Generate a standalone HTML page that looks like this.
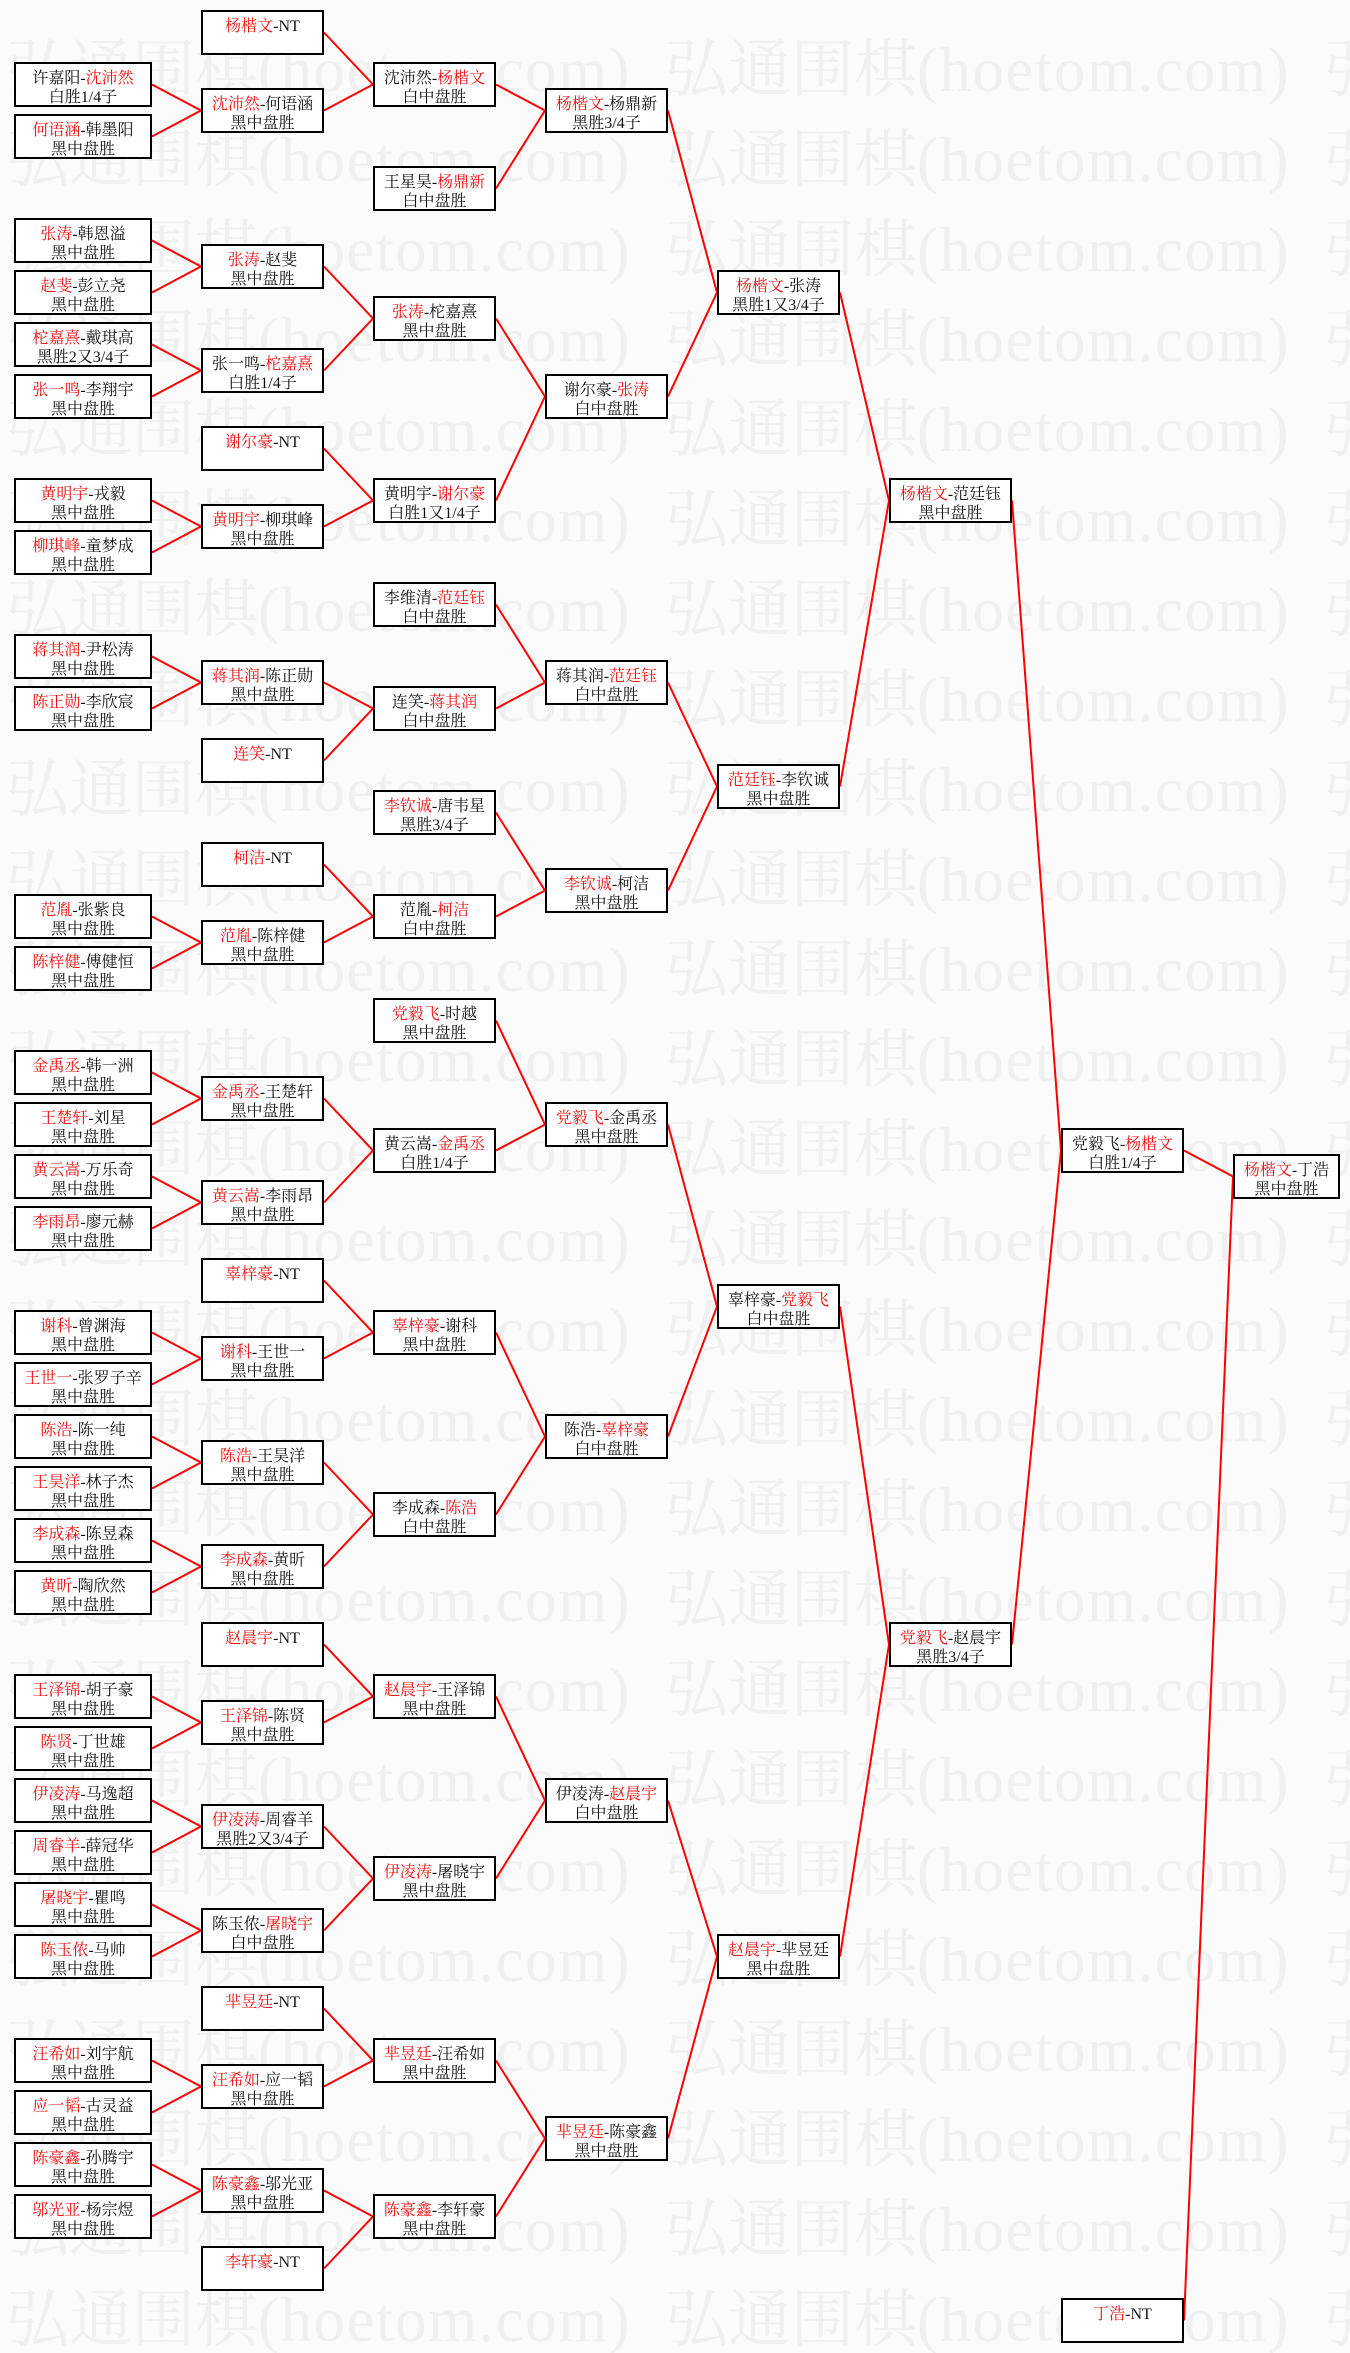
<!DOCTYPE html>
<html><head><meta charset="utf-8"><style>
html,body{margin:0;padding:0;background:#fbfbfb;}
body{width:1350px;height:2353px;overflow:hidden;}
svg{display:block;}
.w{font-family:"Liberation Serif","Noto Serif CJK SC",serif;font-size:63px;fill:#f0f0f0;}
.lt{letter-spacing:1.5px;}
.l{fill:none;stroke:#f00;stroke-width:2;}
.b{fill:#fff;stroke:#000;stroke-width:2;}
.t{font-family:"Liberation Serif","Noto Serif CJK SC",serif;font-size:16px;fill:#111;text-anchor:middle;}
.r{fill:#f01010;}
</style></head><body>
<svg width="1350" height="2353" viewBox="0 0 1350 2353" xmlns="http://www.w3.org/2000/svg">
<!-- watermark -->
<g>
<text class="w" y="91"><tspan x="6">弘通围棋</tspan><tspan class="lt">(hoetom.com)</tspan><tspan x="665">弘通围棋</tspan><tspan class="lt">(hoetom.com)</tspan><tspan x="1324">弘通围棋</tspan></text>
<text class="w" y="181"><tspan x="6">弘通围棋</tspan><tspan class="lt">(hoetom.com)</tspan><tspan x="665">弘通围棋</tspan><tspan class="lt">(hoetom.com)</tspan><tspan x="1324">弘通围棋</tspan></text>
<text class="w" y="271"><tspan x="6">弘通围棋</tspan><tspan class="lt">(hoetom.com)</tspan><tspan x="665">弘通围棋</tspan><tspan class="lt">(hoetom.com)</tspan><tspan x="1324">弘通围棋</tspan></text>
<text class="w" y="361"><tspan x="6">弘通围棋</tspan><tspan class="lt">(hoetom.com)</tspan><tspan x="665">弘通围棋</tspan><tspan class="lt">(hoetom.com)</tspan><tspan x="1324">弘通围棋</tspan></text>
<text class="w" y="451"><tspan x="6">弘通围棋</tspan><tspan class="lt">(hoetom.com)</tspan><tspan x="665">弘通围棋</tspan><tspan class="lt">(hoetom.com)</tspan><tspan x="1324">弘通围棋</tspan></text>
<text class="w" y="541"><tspan x="6">弘通围棋</tspan><tspan class="lt">(hoetom.com)</tspan><tspan x="665">弘通围棋</tspan><tspan class="lt">(hoetom.com)</tspan><tspan x="1324">弘通围棋</tspan></text>
<text class="w" y="631"><tspan x="6">弘通围棋</tspan><tspan class="lt">(hoetom.com)</tspan><tspan x="665">弘通围棋</tspan><tspan class="lt">(hoetom.com)</tspan><tspan x="1324">弘通围棋</tspan></text>
<text class="w" y="721"><tspan x="6">弘通围棋</tspan><tspan class="lt">(hoetom.com)</tspan><tspan x="665">弘通围棋</tspan><tspan class="lt">(hoetom.com)</tspan><tspan x="1324">弘通围棋</tspan></text>
<text class="w" y="811"><tspan x="6">弘通围棋</tspan><tspan class="lt">(hoetom.com)</tspan><tspan x="665">弘通围棋</tspan><tspan class="lt">(hoetom.com)</tspan><tspan x="1324">弘通围棋</tspan></text>
<text class="w" y="901"><tspan x="6">弘通围棋</tspan><tspan class="lt">(hoetom.com)</tspan><tspan x="665">弘通围棋</tspan><tspan class="lt">(hoetom.com)</tspan><tspan x="1324">弘通围棋</tspan></text>
<text class="w" y="991"><tspan x="6">弘通围棋</tspan><tspan class="lt">(hoetom.com)</tspan><tspan x="665">弘通围棋</tspan><tspan class="lt">(hoetom.com)</tspan><tspan x="1324">弘通围棋</tspan></text>
<text class="w" y="1081"><tspan x="6">弘通围棋</tspan><tspan class="lt">(hoetom.com)</tspan><tspan x="665">弘通围棋</tspan><tspan class="lt">(hoetom.com)</tspan><tspan x="1324">弘通围棋</tspan></text>
<text class="w" y="1171"><tspan x="6">弘通围棋</tspan><tspan class="lt">(hoetom.com)</tspan><tspan x="665">弘通围棋</tspan><tspan class="lt">(hoetom.com)</tspan><tspan x="1324">弘通围棋</tspan></text>
<text class="w" y="1261"><tspan x="6">弘通围棋</tspan><tspan class="lt">(hoetom.com)</tspan><tspan x="665">弘通围棋</tspan><tspan class="lt">(hoetom.com)</tspan><tspan x="1324">弘通围棋</tspan></text>
<text class="w" y="1351"><tspan x="6">弘通围棋</tspan><tspan class="lt">(hoetom.com)</tspan><tspan x="665">弘通围棋</tspan><tspan class="lt">(hoetom.com)</tspan><tspan x="1324">弘通围棋</tspan></text>
<text class="w" y="1441"><tspan x="6">弘通围棋</tspan><tspan class="lt">(hoetom.com)</tspan><tspan x="665">弘通围棋</tspan><tspan class="lt">(hoetom.com)</tspan><tspan x="1324">弘通围棋</tspan></text>
<text class="w" y="1531"><tspan x="6">弘通围棋</tspan><tspan class="lt">(hoetom.com)</tspan><tspan x="665">弘通围棋</tspan><tspan class="lt">(hoetom.com)</tspan><tspan x="1324">弘通围棋</tspan></text>
<text class="w" y="1621"><tspan x="6">弘通围棋</tspan><tspan class="lt">(hoetom.com)</tspan><tspan x="665">弘通围棋</tspan><tspan class="lt">(hoetom.com)</tspan><tspan x="1324">弘通围棋</tspan></text>
<text class="w" y="1711"><tspan x="6">弘通围棋</tspan><tspan class="lt">(hoetom.com)</tspan><tspan x="665">弘通围棋</tspan><tspan class="lt">(hoetom.com)</tspan><tspan x="1324">弘通围棋</tspan></text>
<text class="w" y="1801"><tspan x="6">弘通围棋</tspan><tspan class="lt">(hoetom.com)</tspan><tspan x="665">弘通围棋</tspan><tspan class="lt">(hoetom.com)</tspan><tspan x="1324">弘通围棋</tspan></text>
<text class="w" y="1891"><tspan x="6">弘通围棋</tspan><tspan class="lt">(hoetom.com)</tspan><tspan x="665">弘通围棋</tspan><tspan class="lt">(hoetom.com)</tspan><tspan x="1324">弘通围棋</tspan></text>
<text class="w" y="1981"><tspan x="6">弘通围棋</tspan><tspan class="lt">(hoetom.com)</tspan><tspan x="665">弘通围棋</tspan><tspan class="lt">(hoetom.com)</tspan><tspan x="1324">弘通围棋</tspan></text>
<text class="w" y="2071"><tspan x="6">弘通围棋</tspan><tspan class="lt">(hoetom.com)</tspan><tspan x="665">弘通围棋</tspan><tspan class="lt">(hoetom.com)</tspan><tspan x="1324">弘通围棋</tspan></text>
<text class="w" y="2161"><tspan x="6">弘通围棋</tspan><tspan class="lt">(hoetom.com)</tspan><tspan x="665">弘通围棋</tspan><tspan class="lt">(hoetom.com)</tspan><tspan x="1324">弘通围棋</tspan></text>
<text class="w" y="2251"><tspan x="6">弘通围棋</tspan><tspan class="lt">(hoetom.com)</tspan><tspan x="665">弘通围棋</tspan><tspan class="lt">(hoetom.com)</tspan><tspan x="1324">弘通围棋</tspan></text>
<text class="w" y="2341"><tspan x="6">弘通围棋</tspan><tspan class="lt">(hoetom.com)</tspan><tspan x="665">弘通围棋</tspan><tspan class="lt">(hoetom.com)</tspan><tspan x="1324">弘通围棋</tspan></text>
</g>
<!-- connectors -->
<g>
<polyline class="l" points="152,84.5 201,110.5 152,136.5"/>
<polyline class="l" points="152,240.5 201,266.5 152,292.5"/>
<polyline class="l" points="152,344.5 201,370.5 152,396.5"/>
<polyline class="l" points="152,500.5 201,526.5 152,552.5"/>
<polyline class="l" points="152,656.5 201,682.5 152,708.5"/>
<polyline class="l" points="152,916.5 201,942.5 152,968.5"/>
<polyline class="l" points="152,1072.5 201,1098.5 152,1124.5"/>
<polyline class="l" points="152,1176.5 201,1202.5 152,1228.5"/>
<polyline class="l" points="152,1332.5 201,1358.5 152,1384.5"/>
<polyline class="l" points="152,1436.5 201,1462.5 152,1488.5"/>
<polyline class="l" points="152,1540.5 201,1566.5 152,1592.5"/>
<polyline class="l" points="152,1696.5 201,1722.5 152,1748.5"/>
<polyline class="l" points="152,1800.5 201,1826.5 152,1852.5"/>
<polyline class="l" points="152,1904.5 201,1930.5 152,1956.5"/>
<polyline class="l" points="152,2060.5 201,2086.5 152,2112.5"/>
<polyline class="l" points="152,2164.5 201,2190.5 152,2216.5"/>

<polyline class="l" points="324,32.5 373,84.5 324,110.5"/>
<polyline class="l" points="324,266.5 373,318.5 324,370.5"/>
<polyline class="l" points="324,448.5 373,500.5 324,526.5"/>
<polyline class="l" points="324,682.5 373,708.5 324,760.5"/>
<polyline class="l" points="324,864.5 373,916.5 324,942.5"/>
<polyline class="l" points="324,1098.5 373,1150.5 324,1202.5"/>
<polyline class="l" points="324,1280.5 373,1332.5 324,1358.5"/>
<polyline class="l" points="324,1462.5 373,1514.5 324,1566.5"/>
<polyline class="l" points="324,1644.5 373,1696.5 324,1722.5"/>
<polyline class="l" points="324,1826.5 373,1878.5 324,1930.5"/>
<polyline class="l" points="324,2008.5 373,2060.5 324,2086.5"/>
<polyline class="l" points="324,2190.5 373,2216.5 324,2268.5"/>

<polyline class="l" points="496,84.5 545,110.5 496,188.5"/>
<polyline class="l" points="496,318.5 545,396.5 496,500.5"/>
<polyline class="l" points="496,604.5 545,682.5 496,708.5"/>
<polyline class="l" points="496,812.5 545,890.5 496,916.5"/>
<polyline class="l" points="496,1020.5 545,1124.5 496,1150.5"/>
<polyline class="l" points="496,1332.5 545,1436.5 496,1514.5"/>
<polyline class="l" points="496,1696.5 545,1800.5 496,1878.5"/>
<polyline class="l" points="496,2060.5 545,2138.5 496,2216.5"/>

<polyline class="l" points="668,110.5 717,292.5 668,396.5"/>
<polyline class="l" points="668,682.5 717,786.5 668,890.5"/>
<polyline class="l" points="668,1124.5 717,1306.5 668,1436.5"/>
<polyline class="l" points="668,1800.5 717,1956.5 668,2138.5"/>

<polyline class="l" points="840,292.5 889,500.5 840,786.5"/>
<polyline class="l" points="840,1306.5 889,1644.5 840,1956.5"/>

<polyline class="l" points="1012,500.5 1061,1150.5 1012,1644.5"/>

<polyline class="l" points="1184,1150.5 1233,1176.5 1184,2320.5"/>
</g>
<!-- column 1 -->
<g transform="translate(14,62)"><rect class="b" x="1" y="1" width="136" height="43"/><text class="t" x="69" y="21">许嘉阳-<tspan class="r">沈沛然</tspan></text><text class="t" x="69" y="40">白胜1/4子</text></g>
<g transform="translate(14,114)"><rect class="b" x="1" y="1" width="136" height="43"/><text class="t" x="69" y="21"><tspan class="r">何语涵</tspan>-韩墨阳</text><text class="t" x="69" y="40">黑中盘胜</text></g>
<g transform="translate(14,218)"><rect class="b" x="1" y="1" width="136" height="43"/><text class="t" x="69" y="21"><tspan class="r">张涛</tspan>-韩恩溢</text><text class="t" x="69" y="40">黑中盘胜</text></g>
<g transform="translate(14,270)"><rect class="b" x="1" y="1" width="136" height="43"/><text class="t" x="69" y="21"><tspan class="r">赵斐</tspan>-彭立尧</text><text class="t" x="69" y="40">黑中盘胜</text></g>
<g transform="translate(14,322)"><rect class="b" x="1" y="1" width="136" height="43"/><text class="t" x="69" y="21"><tspan class="r">柁嘉熹</tspan>-戴琪高</text><text class="t" x="69" y="40">黑胜2又3/4子</text></g>
<g transform="translate(14,374)"><rect class="b" x="1" y="1" width="136" height="43"/><text class="t" x="69" y="21"><tspan class="r">张一鸣</tspan>-李翔宇</text><text class="t" x="69" y="40">黑中盘胜</text></g>
<g transform="translate(14,478)"><rect class="b" x="1" y="1" width="136" height="43"/><text class="t" x="69" y="21"><tspan class="r">黄明宇</tspan>-戎毅</text><text class="t" x="69" y="40">黑中盘胜</text></g>
<g transform="translate(14,530)"><rect class="b" x="1" y="1" width="136" height="43"/><text class="t" x="69" y="21"><tspan class="r">柳琪峰</tspan>-童梦成</text><text class="t" x="69" y="40">黑中盘胜</text></g>
<g transform="translate(14,634)"><rect class="b" x="1" y="1" width="136" height="43"/><text class="t" x="69" y="21"><tspan class="r">蒋其润</tspan>-尹松涛</text><text class="t" x="69" y="40">黑中盘胜</text></g>
<g transform="translate(14,686)"><rect class="b" x="1" y="1" width="136" height="43"/><text class="t" x="69" y="21"><tspan class="r">陈正勋</tspan>-李欣宸</text><text class="t" x="69" y="40">黑中盘胜</text></g>
<g transform="translate(14,894)"><rect class="b" x="1" y="1" width="136" height="43"/><text class="t" x="69" y="21"><tspan class="r">范胤</tspan>-张紫良</text><text class="t" x="69" y="40">黑中盘胜</text></g>
<g transform="translate(14,946)"><rect class="b" x="1" y="1" width="136" height="43"/><text class="t" x="69" y="21"><tspan class="r">陈梓健</tspan>-傅健恒</text><text class="t" x="69" y="40">黑中盘胜</text></g>
<g transform="translate(14,1050)"><rect class="b" x="1" y="1" width="136" height="43"/><text class="t" x="69" y="21"><tspan class="r">金禹丞</tspan>-韩一洲</text><text class="t" x="69" y="40">黑中盘胜</text></g>
<g transform="translate(14,1102)"><rect class="b" x="1" y="1" width="136" height="43"/><text class="t" x="69" y="21"><tspan class="r">王楚轩</tspan>-刘星</text><text class="t" x="69" y="40">黑中盘胜</text></g>
<g transform="translate(14,1154)"><rect class="b" x="1" y="1" width="136" height="43"/><text class="t" x="69" y="21"><tspan class="r">黄云嵩</tspan>-万乐奇</text><text class="t" x="69" y="40">黑中盘胜</text></g>
<g transform="translate(14,1206)"><rect class="b" x="1" y="1" width="136" height="43"/><text class="t" x="69" y="21"><tspan class="r">李雨昂</tspan>-廖元赫</text><text class="t" x="69" y="40">黑中盘胜</text></g>
<g transform="translate(14,1310)"><rect class="b" x="1" y="1" width="136" height="43"/><text class="t" x="69" y="21"><tspan class="r">谢科</tspan>-曾渊海</text><text class="t" x="69" y="40">黑中盘胜</text></g>
<g transform="translate(14,1362)"><rect class="b" x="1" y="1" width="136" height="43"/><text class="t" x="69" y="21"><tspan class="r">王世一</tspan>-张罗子辛</text><text class="t" x="69" y="40">黑中盘胜</text></g>
<g transform="translate(14,1414)"><rect class="b" x="1" y="1" width="136" height="43"/><text class="t" x="69" y="21"><tspan class="r">陈浩</tspan>-陈一纯</text><text class="t" x="69" y="40">黑中盘胜</text></g>
<g transform="translate(14,1466)"><rect class="b" x="1" y="1" width="136" height="43"/><text class="t" x="69" y="21"><tspan class="r">王昊洋</tspan>-林子杰</text><text class="t" x="69" y="40">黑中盘胜</text></g>
<g transform="translate(14,1518)"><rect class="b" x="1" y="1" width="136" height="43"/><text class="t" x="69" y="21"><tspan class="r">李成森</tspan>-陈昱森</text><text class="t" x="69" y="40">黑中盘胜</text></g>
<g transform="translate(14,1570)"><rect class="b" x="1" y="1" width="136" height="43"/><text class="t" x="69" y="21"><tspan class="r">黄昕</tspan>-陶欣然</text><text class="t" x="69" y="40">黑中盘胜</text></g>
<g transform="translate(14,1674)"><rect class="b" x="1" y="1" width="136" height="43"/><text class="t" x="69" y="21"><tspan class="r">王泽锦</tspan>-胡子豪</text><text class="t" x="69" y="40">黑中盘胜</text></g>
<g transform="translate(14,1726)"><rect class="b" x="1" y="1" width="136" height="43"/><text class="t" x="69" y="21"><tspan class="r">陈贤</tspan>-丁世雄</text><text class="t" x="69" y="40">黑中盘胜</text></g>
<g transform="translate(14,1778)"><rect class="b" x="1" y="1" width="136" height="43"/><text class="t" x="69" y="21"><tspan class="r">伊凌涛</tspan>-马逸超</text><text class="t" x="69" y="40">黑中盘胜</text></g>
<g transform="translate(14,1830)"><rect class="b" x="1" y="1" width="136" height="43"/><text class="t" x="69" y="21"><tspan class="r">周睿羊</tspan>-薛冠华</text><text class="t" x="69" y="40">黑中盘胜</text></g>
<g transform="translate(14,1882)"><rect class="b" x="1" y="1" width="136" height="43"/><text class="t" x="69" y="21"><tspan class="r">屠晓宇</tspan>-瞿鸣</text><text class="t" x="69" y="40">黑中盘胜</text></g>
<g transform="translate(14,1934)"><rect class="b" x="1" y="1" width="136" height="43"/><text class="t" x="69" y="21"><tspan class="r">陈玉侬</tspan>-马帅</text><text class="t" x="69" y="40">黑中盘胜</text></g>
<g transform="translate(14,2038)"><rect class="b" x="1" y="1" width="136" height="43"/><text class="t" x="69" y="21"><tspan class="r">汪希如</tspan>-刘宇航</text><text class="t" x="69" y="40">黑中盘胜</text></g>
<g transform="translate(14,2090)"><rect class="b" x="1" y="1" width="136" height="43"/><text class="t" x="69" y="21"><tspan class="r">应一韬</tspan>-古灵益</text><text class="t" x="69" y="40">黑中盘胜</text></g>
<g transform="translate(14,2142)"><rect class="b" x="1" y="1" width="136" height="43"/><text class="t" x="69" y="21"><tspan class="r">陈豪鑫</tspan>-孙腾宇</text><text class="t" x="69" y="40">黑中盘胜</text></g>
<g transform="translate(14,2194)"><rect class="b" x="1" y="1" width="136" height="43"/><text class="t" x="69" y="21"><tspan class="r">邬光亚</tspan>-杨宗煜</text><text class="t" x="69" y="40">黑中盘胜</text></g>
<!-- column 2 -->
<g transform="translate(201,10)"><rect class="b" x="1" y="1" width="121" height="43"/><text class="t" x="61.5" y="21"><tspan class="r">杨楷文</tspan>-NT</text></g>
<g transform="translate(201,88)"><rect class="b" x="1" y="1" width="121" height="43"/><text class="t" x="61.5" y="21"><tspan class="r">沈沛然</tspan>-何语涵</text><text class="t" x="61.5" y="40">黑中盘胜</text></g>
<g transform="translate(201,244)"><rect class="b" x="1" y="1" width="121" height="43"/><text class="t" x="61.5" y="21"><tspan class="r">张涛</tspan>-赵斐</text><text class="t" x="61.5" y="40">黑中盘胜</text></g>
<g transform="translate(201,348)"><rect class="b" x="1" y="1" width="121" height="43"/><text class="t" x="61.5" y="21">张一鸣-<tspan class="r">柁嘉熹</tspan></text><text class="t" x="61.5" y="40">白胜1/4子</text></g>
<g transform="translate(201,426)"><rect class="b" x="1" y="1" width="121" height="43"/><text class="t" x="61.5" y="21"><tspan class="r">谢尔豪</tspan>-NT</text></g>
<g transform="translate(201,504)"><rect class="b" x="1" y="1" width="121" height="43"/><text class="t" x="61.5" y="21"><tspan class="r">黄明宇</tspan>-柳琪峰</text><text class="t" x="61.5" y="40">黑中盘胜</text></g>
<g transform="translate(201,660)"><rect class="b" x="1" y="1" width="121" height="43"/><text class="t" x="61.5" y="21"><tspan class="r">蒋其润</tspan>-陈正勋</text><text class="t" x="61.5" y="40">黑中盘胜</text></g>
<g transform="translate(201,738)"><rect class="b" x="1" y="1" width="121" height="43"/><text class="t" x="61.5" y="21"><tspan class="r">连笑</tspan>-NT</text></g>
<g transform="translate(201,842)"><rect class="b" x="1" y="1" width="121" height="43"/><text class="t" x="61.5" y="21"><tspan class="r">柯洁</tspan>-NT</text></g>
<g transform="translate(201,920)"><rect class="b" x="1" y="1" width="121" height="43"/><text class="t" x="61.5" y="21"><tspan class="r">范胤</tspan>-陈梓健</text><text class="t" x="61.5" y="40">黑中盘胜</text></g>
<g transform="translate(201,1076)"><rect class="b" x="1" y="1" width="121" height="43"/><text class="t" x="61.5" y="21"><tspan class="r">金禹丞</tspan>-王楚轩</text><text class="t" x="61.5" y="40">黑中盘胜</text></g>
<g transform="translate(201,1180)"><rect class="b" x="1" y="1" width="121" height="43"/><text class="t" x="61.5" y="21"><tspan class="r">黄云嵩</tspan>-李雨昂</text><text class="t" x="61.5" y="40">黑中盘胜</text></g>
<g transform="translate(201,1258)"><rect class="b" x="1" y="1" width="121" height="43"/><text class="t" x="61.5" y="21"><tspan class="r">辜梓豪</tspan>-NT</text></g>
<g transform="translate(201,1336)"><rect class="b" x="1" y="1" width="121" height="43"/><text class="t" x="61.5" y="21"><tspan class="r">谢科</tspan>-王世一</text><text class="t" x="61.5" y="40">黑中盘胜</text></g>
<g transform="translate(201,1440)"><rect class="b" x="1" y="1" width="121" height="43"/><text class="t" x="61.5" y="21"><tspan class="r">陈浩</tspan>-王昊洋</text><text class="t" x="61.5" y="40">黑中盘胜</text></g>
<g transform="translate(201,1544)"><rect class="b" x="1" y="1" width="121" height="43"/><text class="t" x="61.5" y="21"><tspan class="r">李成森</tspan>-黄昕</text><text class="t" x="61.5" y="40">黑中盘胜</text></g>
<g transform="translate(201,1622)"><rect class="b" x="1" y="1" width="121" height="43"/><text class="t" x="61.5" y="21"><tspan class="r">赵晨宇</tspan>-NT</text></g>
<g transform="translate(201,1700)"><rect class="b" x="1" y="1" width="121" height="43"/><text class="t" x="61.5" y="21"><tspan class="r">王泽锦</tspan>-陈贤</text><text class="t" x="61.5" y="40">黑中盘胜</text></g>
<g transform="translate(201,1804)"><rect class="b" x="1" y="1" width="121" height="43"/><text class="t" x="61.5" y="21"><tspan class="r">伊凌涛</tspan>-周睿羊</text><text class="t" x="61.5" y="40">黑胜2又3/4子</text></g>
<g transform="translate(201,1908)"><rect class="b" x="1" y="1" width="121" height="43"/><text class="t" x="61.5" y="21">陈玉侬-<tspan class="r">屠晓宇</tspan></text><text class="t" x="61.5" y="40">白中盘胜</text></g>
<g transform="translate(201,1986)"><rect class="b" x="1" y="1" width="121" height="43"/><text class="t" x="61.5" y="21"><tspan class="r">芈昱廷</tspan>-NT</text></g>
<g transform="translate(201,2064)"><rect class="b" x="1" y="1" width="121" height="43"/><text class="t" x="61.5" y="21"><tspan class="r">汪希如</tspan>-应一韬</text><text class="t" x="61.5" y="40">黑中盘胜</text></g>
<g transform="translate(201,2168)"><rect class="b" x="1" y="1" width="121" height="43"/><text class="t" x="61.5" y="21"><tspan class="r">陈豪鑫</tspan>-邬光亚</text><text class="t" x="61.5" y="40">黑中盘胜</text></g>
<g transform="translate(201,2246)"><rect class="b" x="1" y="1" width="121" height="43"/><text class="t" x="61.5" y="21"><tspan class="r">李轩豪</tspan>-NT</text></g>
<!-- column 3 -->
<g transform="translate(373,62)"><rect class="b" x="1" y="1" width="121" height="43"/><text class="t" x="61.5" y="21">沈沛然-<tspan class="r">杨楷文</tspan></text><text class="t" x="61.5" y="40">白中盘胜</text></g>
<g transform="translate(373,166)"><rect class="b" x="1" y="1" width="121" height="43"/><text class="t" x="61.5" y="21">王星昊-<tspan class="r">杨鼎新</tspan></text><text class="t" x="61.5" y="40">白中盘胜</text></g>
<g transform="translate(373,296)"><rect class="b" x="1" y="1" width="121" height="43"/><text class="t" x="61.5" y="21"><tspan class="r">张涛</tspan>-柁嘉熹</text><text class="t" x="61.5" y="40">黑中盘胜</text></g>
<g transform="translate(373,478)"><rect class="b" x="1" y="1" width="121" height="43"/><text class="t" x="61.5" y="21">黄明宇-<tspan class="r">谢尔豪</tspan></text><text class="t" x="61.5" y="40">白胜1又1/4子</text></g>
<g transform="translate(373,582)"><rect class="b" x="1" y="1" width="121" height="43"/><text class="t" x="61.5" y="21">李维清-<tspan class="r">范廷钰</tspan></text><text class="t" x="61.5" y="40">白中盘胜</text></g>
<g transform="translate(373,686)"><rect class="b" x="1" y="1" width="121" height="43"/><text class="t" x="61.5" y="21">连笑-<tspan class="r">蒋其润</tspan></text><text class="t" x="61.5" y="40">白中盘胜</text></g>
<g transform="translate(373,790)"><rect class="b" x="1" y="1" width="121" height="43"/><text class="t" x="61.5" y="21"><tspan class="r">李钦诚</tspan>-唐韦星</text><text class="t" x="61.5" y="40">黑胜3/4子</text></g>
<g transform="translate(373,894)"><rect class="b" x="1" y="1" width="121" height="43"/><text class="t" x="61.5" y="21">范胤-<tspan class="r">柯洁</tspan></text><text class="t" x="61.5" y="40">白中盘胜</text></g>
<g transform="translate(373,998)"><rect class="b" x="1" y="1" width="121" height="43"/><text class="t" x="61.5" y="21"><tspan class="r">党毅飞</tspan>-时越</text><text class="t" x="61.5" y="40">黑中盘胜</text></g>
<g transform="translate(373,1128)"><rect class="b" x="1" y="1" width="121" height="43"/><text class="t" x="61.5" y="21">黄云嵩-<tspan class="r">金禹丞</tspan></text><text class="t" x="61.5" y="40">白胜1/4子</text></g>
<g transform="translate(373,1310)"><rect class="b" x="1" y="1" width="121" height="43"/><text class="t" x="61.5" y="21"><tspan class="r">辜梓豪</tspan>-谢科</text><text class="t" x="61.5" y="40">黑中盘胜</text></g>
<g transform="translate(373,1492)"><rect class="b" x="1" y="1" width="121" height="43"/><text class="t" x="61.5" y="21">李成森-<tspan class="r">陈浩</tspan></text><text class="t" x="61.5" y="40">白中盘胜</text></g>
<g transform="translate(373,1674)"><rect class="b" x="1" y="1" width="121" height="43"/><text class="t" x="61.5" y="21"><tspan class="r">赵晨宇</tspan>-王泽锦</text><text class="t" x="61.5" y="40">黑中盘胜</text></g>
<g transform="translate(373,1856)"><rect class="b" x="1" y="1" width="121" height="43"/><text class="t" x="61.5" y="21"><tspan class="r">伊凌涛</tspan>-屠晓宇</text><text class="t" x="61.5" y="40">黑中盘胜</text></g>
<g transform="translate(373,2038)"><rect class="b" x="1" y="1" width="121" height="43"/><text class="t" x="61.5" y="21"><tspan class="r">芈昱廷</tspan>-汪希如</text><text class="t" x="61.5" y="40">黑中盘胜</text></g>
<g transform="translate(373,2194)"><rect class="b" x="1" y="1" width="121" height="43"/><text class="t" x="61.5" y="21"><tspan class="r">陈豪鑫</tspan>-李轩豪</text><text class="t" x="61.5" y="40">黑中盘胜</text></g>
<!-- column 4 -->
<g transform="translate(545,88)"><rect class="b" x="1" y="1" width="121" height="43"/><text class="t" x="61.5" y="21"><tspan class="r">杨楷文</tspan>-杨鼎新</text><text class="t" x="61.5" y="40">黑胜3/4子</text></g>
<g transform="translate(545,374)"><rect class="b" x="1" y="1" width="121" height="43"/><text class="t" x="61.5" y="21">谢尔豪-<tspan class="r">张涛</tspan></text><text class="t" x="61.5" y="40">白中盘胜</text></g>
<g transform="translate(545,660)"><rect class="b" x="1" y="1" width="121" height="43"/><text class="t" x="61.5" y="21">蒋其润-<tspan class="r">范廷钰</tspan></text><text class="t" x="61.5" y="40">白中盘胜</text></g>
<g transform="translate(545,868)"><rect class="b" x="1" y="1" width="121" height="43"/><text class="t" x="61.5" y="21"><tspan class="r">李钦诚</tspan>-柯洁</text><text class="t" x="61.5" y="40">黑中盘胜</text></g>
<g transform="translate(545,1102)"><rect class="b" x="1" y="1" width="121" height="43"/><text class="t" x="61.5" y="21"><tspan class="r">党毅飞</tspan>-金禹丞</text><text class="t" x="61.5" y="40">黑中盘胜</text></g>
<g transform="translate(545,1414)"><rect class="b" x="1" y="1" width="121" height="43"/><text class="t" x="61.5" y="21">陈浩-<tspan class="r">辜梓豪</tspan></text><text class="t" x="61.5" y="40">白中盘胜</text></g>
<g transform="translate(545,1778)"><rect class="b" x="1" y="1" width="121" height="43"/><text class="t" x="61.5" y="21">伊凌涛-<tspan class="r">赵晨宇</tspan></text><text class="t" x="61.5" y="40">白中盘胜</text></g>
<g transform="translate(545,2116)"><rect class="b" x="1" y="1" width="121" height="43"/><text class="t" x="61.5" y="21"><tspan class="r">芈昱廷</tspan>-陈豪鑫</text><text class="t" x="61.5" y="40">黑中盘胜</text></g>
<!-- column 5 -->
<g transform="translate(717,270)"><rect class="b" x="1" y="1" width="121" height="43"/><text class="t" x="61.5" y="21"><tspan class="r">杨楷文</tspan>-张涛</text><text class="t" x="61.5" y="40">黑胜1又3/4子</text></g>
<g transform="translate(717,764)"><rect class="b" x="1" y="1" width="121" height="43"/><text class="t" x="61.5" y="21"><tspan class="r">范廷钰</tspan>-李钦诚</text><text class="t" x="61.5" y="40">黑中盘胜</text></g>
<g transform="translate(717,1284)"><rect class="b" x="1" y="1" width="121" height="43"/><text class="t" x="61.5" y="21">辜梓豪-<tspan class="r">党毅飞</tspan></text><text class="t" x="61.5" y="40">白中盘胜</text></g>
<g transform="translate(717,1934)"><rect class="b" x="1" y="1" width="121" height="43"/><text class="t" x="61.5" y="21"><tspan class="r">赵晨宇</tspan>-芈昱廷</text><text class="t" x="61.5" y="40">黑中盘胜</text></g>
<!-- column 6 -->
<g transform="translate(889,478)"><rect class="b" x="1" y="1" width="121" height="43"/><text class="t" x="61.5" y="21"><tspan class="r">杨楷文</tspan>-范廷钰</text><text class="t" x="61.5" y="40">黑中盘胜</text></g>
<g transform="translate(889,1622)"><rect class="b" x="1" y="1" width="121" height="43"/><text class="t" x="61.5" y="21"><tspan class="r">党毅飞</tspan>-赵晨宇</text><text class="t" x="61.5" y="40">黑胜3/4子</text></g>
<!-- column 7 -->
<g transform="translate(1061,1128)"><rect class="b" x="1" y="1" width="121" height="43"/><text class="t" x="61.5" y="21">党毅飞-<tspan class="r">杨楷文</tspan></text><text class="t" x="61.5" y="40">白胜1/4子</text></g>
<g transform="translate(1061,2298)"><rect class="b" x="1" y="1" width="121" height="43"/><text class="t" x="61.5" y="21"><tspan class="r">丁浩</tspan>-NT</text></g>
<!-- column 8 -->
<g transform="translate(1233,1154)"><rect class="b" x="1" y="1" width="105" height="43"/><text class="t" x="53.5" y="21"><tspan class="r">杨楷文</tspan>-丁浩</text><text class="t" x="53.5" y="40">黑中盘胜</text></g>
</svg>
</body></html>
